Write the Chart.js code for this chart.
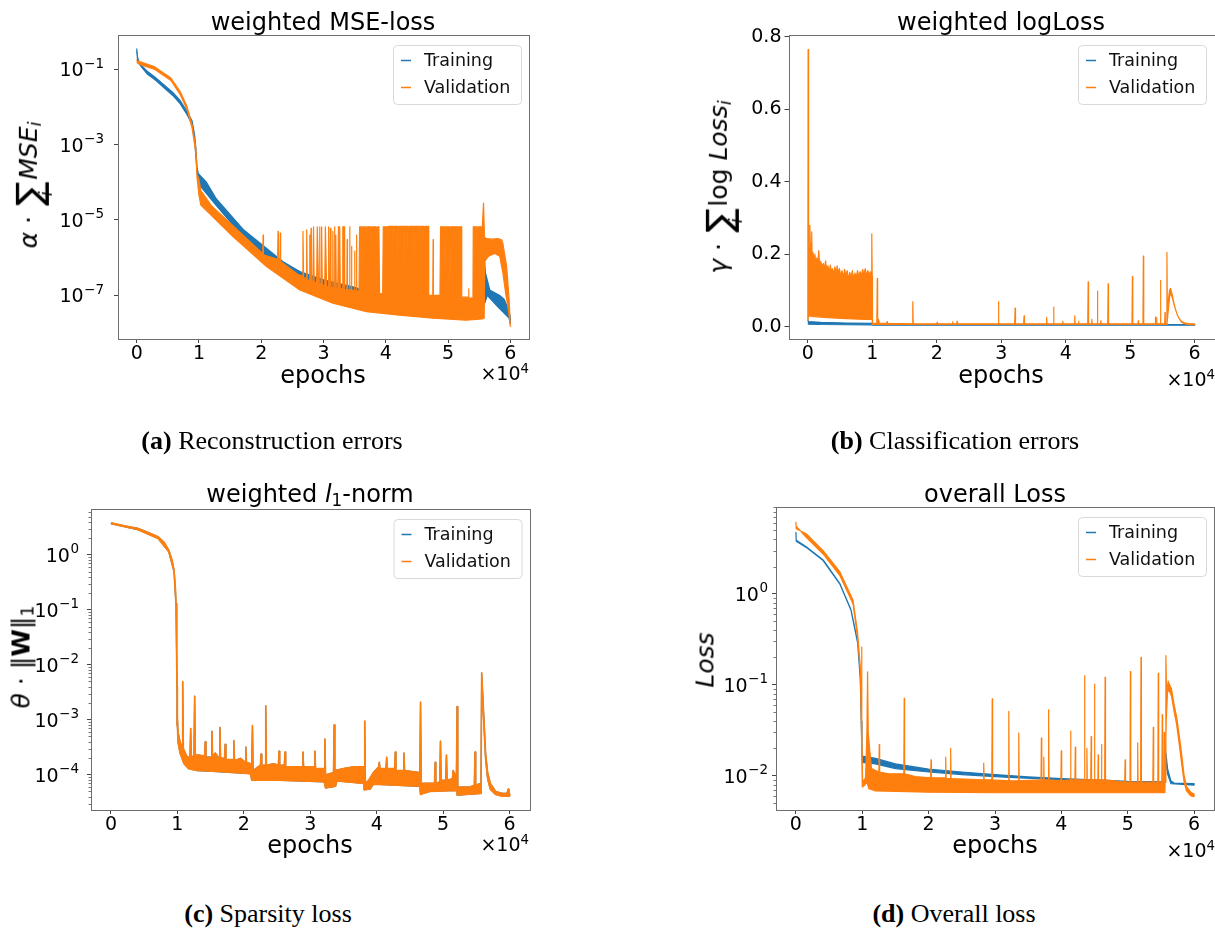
<!DOCTYPE html>
<html lang="en">
<head>
<meta charset="UTF-8" />
<title>Loss curves</title>
<script src="https://cdn.jsdelivr.net/npm/chart.js"></script>
<style>
  body { margin: 0; background: #fff; }
  .fig { position: relative; width: 1215px; height: 929px; overflow: hidden; font-family: "DejaVu Sans", sans-serif; color: #000; }
  canvas { position: absolute; }
  .t { position: absolute; white-space: nowrap; line-height: 1; font-size: 24px; transform: translateX(-50%); }
  .off { position: absolute; font-size: 19px; line-height: 1; white-space: nowrap; }
  .off sup { font-size: 0.7em; vertical-align: 0.55em; line-height: 0; }
  .yl { position: absolute; white-space: nowrap; font-size: 25px; line-height: 1; transform: translate(-50%, -50%) rotate(-90deg); }
  .yl sub, .t sub { font-size: 0.7em; vertical-align: -0.25em; line-height: 0; }
  .sum { display: inline-block; position: relative; font-size: 1.45em; vertical-align: -0.14em; margin: 0 2px; }
  .lim { position: absolute; left: 50%; bottom: -0.42em; font-size: 0.48em; font-style: italic; transform: translateX(-50%); }
  .cap { position: absolute; font-family: "Liberation Serif", "Times New Roman", serif; font-size: 26px; white-space: nowrap; line-height: 1; transform: translateX(-50%); }
</style>
</head>
<body>
<div class="fig">
  <canvas id="ca" width="600" height="400" style="left:0;top:0"></canvas>
  <canvas id="cb" width="615" height="400" style="left:600px;top:0"></canvas>
  <canvas id="cc" width="600" height="400" style="left:0;top:470px"></canvas>
  <canvas id="cd" width="615" height="400" style="left:600px;top:470px"></canvas>

  <div class="t" style="left:323px;top:10px">weighted MSE-loss</div>
  <div class="t" style="left:1001px;top:10px">weighted logLoss</div>
  <div class="t" style="left:310px;top:482px">weighted <i>l</i><sub>1</sub>-norm</div>
  <div class="t" style="left:995px;top:482px">overall Loss</div>

  <div class="t" style="left:323px;top:363px">epochs</div>
  <div class="t" style="left:1001px;top:363px">epochs</div>
  <div class="t" style="left:310px;top:833px">epochs</div>
  <div class="t" style="left:995px;top:833px">epochs</div>

  <div class="off" style="right:686px;top:364px">×10<sup>4</sup></div>
  <div class="off" style="right:0;top:370px">×10<sup>4</sup></div>
  <div class="off" style="right:686px;top:835px">×10<sup>4</sup></div>
  <div class="off" style="right:0;top:841px">×10<sup>4</sup></div>

  <div class="yl" style="left:30px;top:185px"><i>α</i> · <span class="sum">∑<span class="lim">i</span></span><i>MSE</i><sub><i>i</i></sub></div>
  <div class="yl" style="left:720px;top:187px"><i>γ</i> · <span class="sum">∑<span class="lim">i</span></span>log <i>Loss</i><sub><i>i</i></sub></div>
  <div class="yl" style="left:21px;top:657px"><i>θ</i> · ‖<b>W</b>‖<sub>1</sub></div>
  <div class="yl" style="left:705px;top:660px"><i>Loss</i></div>

  <div class="cap" style="left:272px;top:428px"><b>(a)</b> Reconstruction errors</div>
  <div class="cap" style="left:955px;top:428px"><b>(b)</b> Classification errors</div>
  <div class="cap" style="left:268px;top:901px"><b>(c)</b> Sparsity loss</div>
  <div class="cap" style="left:954px;top:901px"><b>(d)</b> Overall loss</div>
</div>

<script>
  // ---- axes ----
  const epochTicks = [0, 10000, 20000, 30000, 40000, 50000, 60000];
  const epochTickLabels = ['0', '1', '2', '3', '4', '5', '6'];

  const mseTicks = [1e-7, 1e-5, 1e-3, 1e-1];
  const mseTickLabels = ['10^−7', '10^−5', '10^−3', '10^−1'];
  const logLossTicks = [0, 0.2, 0.4, 0.6, 0.8];
  const logLossTickLabels = ['0.0', '0.2', '0.4', '0.6', '0.8'];
  const l1Ticks = [1e-4, 1e-3, 1e-2, 1e-1, 1];
  const l1TickLabels = ['10^−4', '10^−3', '10^−2', '10^−1', '10^0'];
  const l1MinorDecades = [1e-5, 1e-4, 1e-3, 1e-2, 1e-1, 1];
  const lossTicks = [1e-2, 1e-1, 1];
  const lossTickLabels = ['10^−2', '10^−1', '10^0'];
  const lossMinorDecades = [1e-3, 1e-2, 1e-1, 1];

  // ---- (a) weighted MSE-loss: [epoch, value] upper / lower envelope ----
  const mseTrainHi = [[0,0.35],[150,0.2],[500,0.14],[1700,0.087],[3000,0.06],[4400,0.038],[5800,0.024],[7000,0.0145],[8100,0.0075],[8900,0.0042],[9300,0.0018],[9500,8e-4],[9700,2.4e-4],[9900,1.7e-4],[10200,1.5e-4],[11200,1.0e-4],[12800,3.6e-5],[17200,5.4e-6],[23500,7.8e-7],[26200,4.3e-7],[30000,2.6e-7],[34700,1.7e-7],[38500,1.1e-7],[44000,9.5e-8],[52900,8.3e-8],[55500,8e-8],[55800,1.07e-6],[56000,4e-7],[56700,1.4e-7],[58300,1.0e-7],[59000,8e-8],[59500,5e-8],[59900,3.3e-8],[60000,2.5e-8]];
  const mseTrainLo = [[0,0.3],[200,0.15],[1700,0.074],[3000,0.051],[4400,0.032],[5800,0.02],[7000,0.012],[8100,0.0062],[8900,0.0034],[9300,0.0014],[9600,3e-4],[9800,1.2e-4],[10200,8e-5],[12800,2.4e-5],[17200,3.4e-6],[23500,4.8e-7],[30000,1.4e-7],[40000,6e-8],[50000,5e-8],[55600,4.5e-8],[56300,1.0e-7],[58000,5e-8],[59800,2.5e-8],[60000,1.8e-8]];
  const mseValHi = [[0,0.18],[100,0.165],[600,0.155],[2800,0.117],[5500,0.058],[7000,0.025],[8100,0.01],[8900,0.0033],[9500,8e-4],[9700,1.6e-4],[10000,1.2e-4],[10300,6e-5],[12000,2.4e-5],[15500,7e-6],[20000,1.4e-6],[20240,1.3e-6],[20300,4e-6],[20360,1.2e-6],[22640,9e-7],[22700,5e-6],[22760,9e-7],[23000,8e-7],[23060,4.5e-6],[23120,8e-7],[26000,3.5e-7],[26600,3.3e-7],[26700,5e-6],[26800,3e-7],[27200,2.8e-7],[27300,5.5e-6],[27400,2.6e-7],[27750,2.5e-7],[27800,4e-6],[27850,2.5e-7],[27950,2.5e-7],[28000,6e-6],[28050,2.4e-7],[28300,2.4e-7],[28400,6.6e-6],[28500,2.3e-7],[28900,2.2e-7],[29000,6.6e-6],[29100,6.6e-6],[29200,2e-7],[29350,2e-7],[29400,6.6e-6],[29450,2e-7],[29600,2e-7],[29700,6.6e-6],[29800,1.9e-7],[30200,1.8e-7],[30300,6.6e-6],[30400,6.6e-6],[30500,1.7e-7],[30750,1.7e-7],[30800,6.6e-6],[30850,1.7e-7],[31000,1.6e-7],[31100,6e-6],[31200,1.6e-7],[31450,1.6e-7],[31500,5e-6],[31550,1.6e-7],[31750,1.6e-7],[31800,6.6e-6],[31850,1.5e-7],[31950,1.5e-7],[32000,4e-6],[32050,1.5e-7],[32300,1.5e-7],[32400,6.6e-6],[32600,6.6e-6],[32700,1.5e-7],[33000,1.5e-7],[33100,6.6e-6],[33300,6.6e-6],[33400,1.4e-7],[33750,1.4e-7],[33800,3e-6],[33850,1.4e-7],[34150,1.4e-7],[34200,6.6e-6],[34250,1.4e-7],[34450,1.4e-7],[34500,2e-6],[34550,1.4e-7],[34950,1.35e-7],[35000,1.5e-6],[35050,1.35e-7],[35250,1.3e-7],[35300,4e-6],[35350,1.3e-7],[35700,1.3e-7],[35800,6.6e-6],[36100,6.6e-6],[36200,3e-7],[36300,6.6e-6],[36800,6.6e-6],[36900,2e-7],[37000,6.6e-6],[37600,6.6e-6],[37700,5e-7],[37800,6.6e-6],[38400,6.6e-6],[38500,3e-7],[38600,6.6e-6],[38900,6.6e-6],[39000,1.1e-7],[39500,1.1e-7],[39600,6.6e-6],[40200,6.6e-6],[40300,4e-7],[40400,6.8e-6],[41000,6.8e-6],[41100,8e-7],[41200,6.8e-6],[41900,6.8e-6],[42000,2e-7],[42100,6.8e-6],[42800,6.8e-6],[42900,5e-7],[43000,6.8e-6],[43500,6.8e-6],[43600,1e-6],[43700,6.8e-6],[44400,6.8e-6],[44500,3e-7],[44600,6.8e-6],[45300,6.8e-6],[45400,6e-7],[45500,6.8e-6],[46100,6.8e-6],[46200,2e-7],[46300,6.8e-6],[46800,6.8e-6],[46900,1e-7],[47550,1e-7],[47600,3e-6],[47650,1e-7],[48700,1e-7],[48800,6.6e-6],[49400,6.6e-6],[49500,5e-7],[49600,6.6e-6],[50200,6.6e-6],[50300,2e-7],[50400,6.6e-6],[50800,6.6e-6],[50900,3e-7],[51000,6.6e-6],[51600,6.6e-6],[51700,4e-7],[51800,6.6e-6],[52100,6.6e-6],[52200,9e-8],[53250,9e-8],[53300,1.5e-7],[53350,8.5e-8],[54000,8.5e-8],[54050,6.6e-6],[54600,6.6e-6],[54700,3e-7],[54800,6.6e-6],[55500,6.6e-6],[55700,2.8e-5],[55850,3.5e-6],[56200,3.2e-6],[57000,3.1e-6],[58000,3.2e-6],[58600,3.0e-6],[58800,2.4e-6],[59400,6e-7],[59800,8e-8],[60000,1.5e-8]];
  const mseValLo = [[0,0.15],[600,0.13],[2800,0.1],[5500,0.05],[7000,0.021],[8100,0.0085],[8900,0.0027],[9500,6e-4],[9700,1.3e-4],[10000,4.5e-5],[10300,2.5e-5],[15500,3.6e-6],[20850,5.8e-7],[26200,1.4e-7],[31500,6.2e-8],[36900,3.7e-8],[42200,3.0e-8],[47600,2.5e-8],[52900,2.2e-8],[55600,2.4e-8],[55800,2.5e-8],[55900,8e-7],[56500,1.1e-6],[57500,1.3e-6],[58300,1.1e-6],[58800,4e-7],[59300,1e-7],[59700,4e-8],[60000,1.5e-8]];

  // ---- (b) weighted logLoss ----
  const logTrainHi = [[0,0.02],[100,0.014],[2000,0.012],[6000,0.01],[9950,0.009],[10050,0.0065],[60000,0.0058]];
  const logTrainLo = [[0,0.008],[100,0.007],[2000,0.006],[9950,0.005],[10050,0.004],[60000,0.0042]];
  const logValHi = [[0,0.015],[40,0.765],[90,0.12],[150,0.22],[250,0.18],[320,0.28],[400,0.2],[470,0.23],[540,0.2],[600,0.262],[660,0.19],[800,0.205],[950,0.18],[1100,0.2],[1250,0.17],[1400,0.19],[1550,0.17],[1700,0.21],[1800,0.175],[2000,0.18],[2200,0.165],[2400,0.175],[2600,0.16],[2750,0.182],[2900,0.158],[3100,0.168],[3300,0.15],[3500,0.17],[3650,0.148],[3800,0.16],[4000,0.145],[4200,0.165],[4400,0.145],[4550,0.168],[4700,0.145],[4900,0.16],[5100,0.138],[5300,0.155],[5500,0.135],[5700,0.158],[5900,0.138],[6100,0.155],[6300,0.13],[6500,0.15],[6700,0.135],[6900,0.155],[7100,0.13],[7300,0.148],[7500,0.135],[7700,0.155],[7900,0.138],[8100,0.152],[8300,0.14],[8500,0.158],[8700,0.142],[8900,0.16],[9100,0.14],[9300,0.155],[9500,0.142],[9700,0.152],[9850,0.14],[9920,0.256],[9980,0.14],[10030,0.01],[10700,0.009],[10770,0.133],[10830,0.012],[10950,0.02],[11100,0.01],[12250,0.009],[12300,0.014],[12350,0.009],[16220,0.008],[16280,0.069],[16340,0.008],[20000,0.008],[20050,0.012],[20100,0.008],[22400,0.008],[22450,0.013],[22500,0.008],[23100,0.008],[23150,0.015],[23200,0.008],[29510,0.008],[29570,0.069],[29630,0.008],[32090,0.008],[32150,0.051],[32210,0.008],[33480,0.008],[33540,0.03],[33600,0.008],[36980,0.008],[37040,0.026],[37100,0.008],[38060,0.008],[38120,0.054],[38180,0.008],[39500,0.008],[39550,0.015],[39600,0.008],[41340,0.008],[41400,0.03],[41460,0.008],[41950,0.008],[42000,0.015],[42050,0.008],[43420,0.008],[43480,0.124],[43540,0.008],[44000,0.008],[44050,0.02],[44100,0.008],[44860,0.008],[44920,0.098],[44980,0.008],[45400,0.008],[45450,0.017],[45500,0.008],[46520,0.008],[46580,0.118],[46640,0.008],[50280,0.008],[50340,0.138],[50400,0.008],[51200,0.008],[51250,0.016],[51300,0.008],[51980,0.008],[52040,0.195],[52100,0.008],[53850,0.008],[53900,0.027],[53950,0.008],[54050,0.008],[54100,0.025],[54150,0.008],[54640,0.008],[54700,0.128],[54760,0.008],[55350,0.008],[55400,0.039],[55450,0.008],[55640,0.008],[55700,0.205],[55760,0.035],[55900,0.07],[56100,0.1],[56250,0.106],[56500,0.09],[56700,0.072],[57000,0.05],[57300,0.033],[57600,0.022],[58000,0.014],[58500,0.01],[59000,0.0085],[60000,0.0078]];
  const logValLo = [[0,0.015],[100,0.03],[1000,0.028],[3000,0.025],[6000,0.022],[9000,0.02],[9980,0.02],[10030,0.006],[55700,0.006],[55800,0.025],[56000,0.062],[56200,0.094],[56500,0.082],[56800,0.062],[57100,0.043],[57500,0.025],[58000,0.012],[58500,0.0075],[59000,0.0062],[60000,0.0058]];

  // ---- (c) weighted l1-norm (training and validation coincide) ----
  const l1Hi = [[0,3.86],[2000,3.4],[4000,3.05],[5500,2.6],[7100,2.14],[8000,1.7],[8700,1.23],[9200,0.8],[9500,0.53],[9700,0.25],[9800,0.13],[9900,0.02],[9950,0.004],[10000,0.0011],[10100,6e-4],[10300,4.5e-4],[10700,3e-4],[10800,5e-3],[10900,3e-4],[11400,2.2e-4],[11900,2e-4],[12000,7e-4],[12100,2e-4],[12500,2.3e-4],[12600,2.7e-3],[12700,2.3e-4],[13200,2.3e-4],[14100,2.2e-4],[14200,4e-4],[14300,2.1e-4],[15100,2.1e-4],[15200,6.2e-4],[15300,2.1e-4],[15700,2.5e-4],[16300,2e-4],[16400,7.3e-4],[16500,2e-4],[17100,2e-4],[17200,3.6e-4],[17300,1.9e-4],[18400,1.9e-4],[18500,4.2e-4],[18600,1.8e-4],[19500,2e-4],[20200,1.7e-4],[20300,3.2e-4],[20400,1.7e-4],[21000,1.6e-4],[21200,1.6e-4],[21300,7.9e-4],[21400,1.2e-4],[22500,1.5e-4],[22600,2.4e-4],[22700,1.5e-4],[23200,1.5e-4],[23300,1.8e-3],[23400,1.5e-4],[24500,1.6e-4],[25200,1.5e-4],[25300,2.7e-4],[25400,1.5e-4],[26100,1.5e-4],[26200,2.6e-4],[26300,1.4e-4],[28800,1.4e-4],[28900,2.6e-4],[29000,1.4e-4],[30600,1.4e-4],[30700,2.7e-4],[30800,1.3e-4],[32100,1.3e-4],[32200,4.5e-4],[32300,1e-4],[33500,1.1e-4],[33600,8.1e-4],[33700,1.2e-4],[35000,1.3e-4],[36500,1.4e-4],[38100,1.4e-4],[38200,9.5e-4],[38300,7e-5],[38800,8e-5],[39500,1.1e-4],[40300,1.4e-4],[40400,1.7e-4],[40500,1.3e-4],[41400,1.3e-4],[41500,2.1e-4],[41600,1.3e-4],[42700,1.3e-4],[42800,2.6e-4],[42900,1.2e-4],[44000,1.2e-4],[44100,2.5e-4],[44200,1.2e-4],[46500,1.1e-4],[46600,2.1e-3],[46700,7e-5],[48700,7e-5],[48800,1.7e-4],[48900,7e-5],[49500,7.5e-5],[49600,4.1e-4],[49700,8e-5],[50400,8e-5],[50500,2.3e-4],[50600,8e-5],[51400,8.5e-5],[51500,1.2e-4],[52000,9e-5],[52100,1.75e-3],[52200,6e-5],[54000,6e-5],[54700,6.5e-5],[54800,2.6e-4],[54900,6.5e-5],[55700,7e-5],[55800,7.2e-3],[56100,1.3e-3],[56400,2.4e-4],[56700,1.1e-4],[57100,7e-5],[57900,5e-5],[58900,4.6e-5],[59600,4.6e-5],[59800,5.5e-5],[59900,4.6e-5],[60000,4.6e-5]];
  const l1Lo = [[0,3.7],[4000,2.9],[7100,2.0],[8700,1.15],[9500,0.5],[9800,0.12],[9950,0.003],[10000,8e-4],[10100,4e-4],[10400,2.5e-4],[11000,1.6e-4],[11700,1.3e-4],[13000,1.2e-4],[16000,1.15e-4],[21000,1.05e-4],[21200,8e-5],[25000,8e-5],[32100,7.5e-5],[32300,5.8e-5],[33800,6.2e-5],[34000,7.8e-5],[38100,7e-5],[38200,5.4e-5],[39000,5.5e-5],[39500,6.8e-5],[46500,6.2e-5],[46600,4.4e-5],[47000,4.6e-5],[48000,5e-5],[52100,5.2e-5],[52200,4.3e-5],[55700,4.6e-5],[55800,5e-3],[56100,1e-3],[56400,1.9e-4],[56700,8.5e-5],[57100,5.5e-5],[57900,4.4e-5],[58900,4.1e-5],[60000,4.1e-5]];

  // ---- (d) overall Loss ----
  const lossTrainHi = [[0,4.8],[50,3.9],[1550,3.3],[4100,2.37],[6600,1.31],[8300,0.67],[9300,0.3],[9700,0.12],[9850,0.04],[9950,0.018],[10000,0.0165],[12000,0.0155],[15000,0.0135],[20000,0.0118],[25000,0.011],[30000,0.0103],[35000,0.0097],[40000,0.0093],[45000,0.009],[50000,0.0087],[55600,0.0086],[55750,0.018],[56000,0.012],[56500,0.0088],[57000,0.0083],[60000,0.0082]];
  const lossTrainLo = [[0,4.7],[50,3.8],[1550,3.25],[4100,2.33],[6600,1.29],[8300,0.66],[9300,0.29],[9700,0.115],[9850,0.037],[10000,0.014],[12000,0.0135],[15000,0.012],[20000,0.011],[25000,0.0103],[30000,0.0098],[40000,0.009],[50000,0.0085],[55600,0.0084],[55750,0.015],[56000,0.0105],[56500,0.0082],[60000,0.0079]];
  const lossValHi = [[0,6.2],[40,5.2],[1550,4.6],[4100,3.0],[6600,1.76],[8600,0.86],[9300,0.37],[9700,0.16],[9850,0.05],[9900,0.26],[9950,0.03],[10050,0.0085],[10500,0.0095],[10700,0.03],[10800,0.139],[10900,0.03],[11100,0.02],[11400,0.012],[12500,0.011],[12560,0.022],[12620,0.011],[14000,0.0105],[16260,0.0105],[16320,0.071],[16380,0.0105],[18000,0.0098],[20300,0.0095],[20360,0.015],[20420,0.0095],[22500,0.0095],[22570,0.016],[22640,0.0093],[23260,0.0093],[23320,0.02],[23380,0.0093],[28240,0.009],[28300,0.0138],[28360,0.009],[29520,0.009],[29580,0.07],[29640,0.009],[32020,0.0088],[32080,0.051],[32140,0.0088],[33520,0.0088],[33580,0.0295],[33640,0.0088],[36930,0.009],[36990,0.026],[37050,0.009],[37300,0.009],[37350,0.016],[37400,0.009],[38020,0.009],[38080,0.053],[38140,0.009],[39930,0.0088],[39990,0.0188],[40050,0.0088],[41330,0.009],[41390,0.031],[41450,0.009],[42040,0.009],[42100,0.0207],[42160,0.009],[43430,0.009],[43490,0.126],[43550,0.009],[43800,0.009],[43850,0.02],[43900,0.009],[44430,0.009],[44490,0.027],[44550,0.009],[44930,0.009],[44990,0.102],[45050,0.009],[45500,0.009],[45550,0.017],[45600,0.009],[46000,0.009],[46050,0.022],[46100,0.009],[46530,0.009],[46590,0.121],[46650,0.009],[49550,0.0085],[49610,0.015],[49670,0.0085],[50340,0.0085],[50400,0.14],[50460,0.0085],[51440,0.0085],[51500,0.023],[51560,0.0085],[51940,0.0085],[52000,0.2],[52060,0.0085],[53790,0.0085],[53850,0.034],[53910,0.0085],[54540,0.0085],[54600,0.134],[54660,0.0085],[55140,0.0085],[55200,0.047],[55260,0.0085],[55450,0.0085],[55500,0.03],[55550,0.0085],[55690,0.0085],[55750,0.21],[55850,0.08],[56100,0.11],[56300,0.1],[56600,0.09],[57000,0.06],[57360,0.045],[57700,0.03],[58100,0.018],[58500,0.01],[58860,0.0076],[59500,0.0066],[60000,0.0063]];
  const lossValLo = [[0,5.6],[1550,4.2],[4100,2.75],[6600,1.6],[8600,0.78],[9300,0.33],[9700,0.14],[9850,0.04],[10000,0.0075],[10300,0.0078],[10700,0.0085],[11000,0.0072],[12000,0.0068],[20000,0.0066],[30000,0.0065],[40000,0.0065],[55600,0.0065],[55800,0.04],[56000,0.085],[56300,0.085],[56600,0.075],[57000,0.05],[57360,0.037],[57700,0.024],[58100,0.014],[58500,0.0085],[58860,0.0068],[59500,0.006],[60000,0.0059]];

  const BLUE = '#1f77b4';
  const ORANGE = '#ff7f0e';
  const legendItems = [{ label: 'Training', color: BLUE }, { label: 'Validation', color: ORANGE }];

  // closed outline: upper envelope left to right, lower envelope back
  function band(hi, lo) {
    const up = hi.map(p => ({ x: p[0], y: p[1] }));
    const down = lo.map(p => ({ x: p[0], y: p[1] })).reverse();
    return up.concat(down);
  }

  // order: lower number is drawn on top (validation over training)
  function series(hi, lo, color, width, order) {
    return {
      data: band(hi, lo),
      borderColor: color,
      backgroundColor: color,
      borderWidth: width,
      fill: 'shape',
      pointRadius: 0,
      tension: 0,
      borderJoinStyle: 'round',
      order: order
    };
  }

  const framePlugin = {
    id: 'frame',
    afterDraw(chart) {
      const o = chart.options.plugins.frame;
      const ctx = chart.ctx;
      const a = chart.chartArea;
      const ys = chart.scales.y;
      ctx.save();
      if (o.minor) {
        const vals = o.minor.flatMap(d => [2, 3, 4, 5, 6, 7, 8, 9].map(m => m * d))
          .filter(v => v > ys.min && v < ys.max);
        ctx.strokeStyle = '#555';
        ctx.lineWidth = 0.8;
        vals.forEach(v => {
          const py = Math.round(ys.getPixelForValue(v)) + 0.5;
          ctx.beginPath();
          ctx.moveTo(a.left - 2.5, py);
          ctx.lineTo(a.left, py);
          ctx.stroke();
        });
      }
      // power-of-ten labels with a raised exponent
      if (o.powTicks) {
        ctx.fillStyle = '#000';
        ctx.textBaseline = 'alphabetic';
        ctx.textAlign = 'left';
        o.powTicks.forEach((v, i) => {
          const [base, exp] = o.powLabels[i].split('^');
          const py = ys.getPixelForValue(v);
          const xr = a.left - 4 - o.pad;
          ctx.font = '13.5px "DejaVu Sans"';
          const we = ctx.measureText(exp).width;
          ctx.font = '19px "DejaVu Sans"';
          const wb = ctx.measureText(base).width;
          const bl = py + 7;
          ctx.fillText(base, xr - we - wb - 0.5, bl);
          ctx.font = '13.5px "DejaVu Sans"';
          ctx.fillText(exp, xr - we, bl - 8.5);
        });
      }
      ctx.strokeStyle = '#6e6e6e';
      ctx.lineWidth = 1;
      ctx.strokeRect(Math.round(a.left) + 0.5, Math.round(a.top) + 0.5,
        Math.round(a.right - a.left), Math.round(a.bottom - a.top));

      // legend box inside the plot, top right
      const w = 128, h = 59;
      const x0 = a.right - 8 - w, y0 = a.top + 10;
      ctx.fillStyle = 'rgba(255,255,255,0.8)';
      ctx.strokeStyle = '#d9d9d9';
      ctx.beginPath();
      if (ctx.roundRect) ctx.roundRect(x0 + 0.5, y0 + 0.5, w, h, 4);
      else ctx.rect(x0 + 0.5, y0 + 0.5, w, h);
      ctx.fill();
      ctx.stroke();
      ctx.font = '17.5px "DejaVu Sans"';
      ctx.textBaseline = 'middle';
      legendItems.forEach((it, i) => {
        const cy = Math.round(y0 + 14.5 + i * 27.5) + 0.5;
        ctx.strokeStyle = it.color;
        ctx.lineWidth = 1.5;
        ctx.beginPath();
        ctx.moveTo(x0 + 8, cy);
        ctx.lineTo(x0 + 18, cy);
        ctx.stroke();
        ctx.fillStyle = '#111';
        ctx.fillText(it.label, x0 + 31, cy + 1);
      });
      ctx.restore();
    }
  };

  Chart.defaults.font.family = '"DejaVu Sans", sans-serif';
  Chart.defaults.color = '#000';

  function makePanel(id, cfg) {
    const isLog = cfg.yType === 'logarithmic';
    return new Chart(document.getElementById(id), {
      type: 'line',
      data: { datasets: cfg.datasets },
      options: {
        responsive: false,
        animation: false,
        events: [],
        devicePixelRatio: 1,
        layout: { padding: cfg.padding, autoPadding: false },
        plugins: {
          legend: { display: false },
          tooltip: { enabled: false },
          frame: {
            minor: cfg.minor,
            powTicks: isLog ? cfg.yTicks : null,
            powLabels: cfg.yLabels,
            pad: cfg.yPad
          }
        },
        scales: {
          x: {
            type: 'linear',
            min: -3000,
            max: 63000,
            afterBuildTicks: s => { s.ticks = epochTicks.map(v => ({ value: v })); },
            afterFit: s => { s.height = 40; },
            ticks: {
              callback: (v, i) => epochTickLabels[i],
              autoSkip: false, maxRotation: 0, padding: 0,
              font: { size: 19 }
            },
            grid: { drawOnChartArea: false, tickLength: 4, tickColor: '#444', tickWidth: 1 },
            border: { display: false }
          },
          y: {
            type: cfg.yType,
            min: cfg.yMin,
            max: cfg.yMax,
            afterBuildTicks: s => { s.ticks = cfg.yTicks.map(v => ({ value: v })); },
            afterFit: s => { s.width = cfg.yWidth; },
            ticks: {
              callback: (v, i) => cfg.yLabels[i],
              color: isLog ? 'rgba(0,0,0,0)' : '#000',
              autoSkip: false, padding: cfg.yPad,
              font: { size: 19 }
            },
            grid: { drawOnChartArea: false, tickLength: 4, tickColor: '#444', tickWidth: 1 },
            border: { display: false }
          }
        }
      },
      plugins: [framePlugin]
    });
  }

  makePanel('ca', {
    datasets: [series(mseTrainHi, mseTrainLo, BLUE, 1.2, 2), series(mseValHi, mseValLo, ORANGE, 1.2, 1)],
    padding: { left: 18, top: 35, right: 71, bottom: 21 },
    yWidth: 100, yType: 'logarithmic', yMin: 7e-9, yMax: 0.8, yPad: 10,
    yTicks: mseTicks, yLabels: mseTickLabels
  });

  makePanel('cb', {
    datasets: [series(logTrainHi, logTrainLo, BLUE, 1.2, 2), series(logValHi, logValLo, ORANGE, 1.2, 1)],
    padding: { left: 88.5, top: 35, right: 1, bottom: 21 },
    yWidth: 100, yType: 'linear', yMin: -0.034, yMax: 0.805, yPad: 3,
    yTicks: logLossTicks, yLabels: logLossTickLabels
  });

  makePanel('cc', {
    datasets: [series(l1Hi, l1Lo, BLUE, 1.2, 2), series(l1Hi, l1Lo, ORANGE, 1.6, 1)],
    padding: { left: 11, top: 39, right: 70.5, bottom: 20 },
    yWidth: 80, yType: 'logarithmic', yMin: 2.3e-5, yMax: 6.86, yPad: 8,
    yTicks: l1Ticks, yLabels: l1TickLabels, minor: l1MinorDecades
  });

  makePanel('cd', {
    datasets: [series(lossTrainHi, lossTrainLo, BLUE, 1.2, 2), series(lossValHi, lossValLo, ORANGE, 1.2, 1)],
    padding: { left: 76, top: 37, right: 1, bottom: 20 },
    yWidth: 100, yType: 'logarithmic', yMin: 4.2e-3, yMax: 9.04, yPad: 4,
    yTicks: lossTicks, yLabels: lossTickLabels, minor: lossMinorDecades
  });
</script>
</body>
</html>
